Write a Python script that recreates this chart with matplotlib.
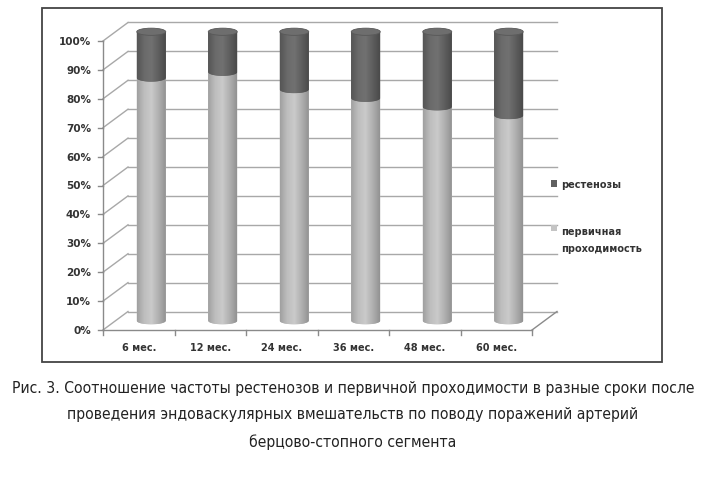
import numpy as np
import matplotlib
matplotlib.use('Agg')
import matplotlib.pyplot as plt
from matplotlib import font_manager
from matplotlib.patches import Polygon, Ellipse, Patch, Rectangle
from matplotlib.legend_handler import HandlerPatch
from matplotlib.colors import LinearSegmentedColormap

# ---------------- data ----------------
categories = ['6 мес.', '12 мес.', '24 мес.', '36 мес.', '48 мес.', '60 мес.']
patency = [84, 86, 80, 77, 74, 71]          # первичная проходимость, %
restenosis = [16, 14, 20, 23, 26, 29]       # рестенозы, %
yticks = [0, 10, 20, 30, 40, 50, 60, 70, 80, 90, 100]
ytick_labels = ['0%', '10%', '20%', '30%', '40%', '50%', '60%', '70%', '80%', '90%', '100%']
series_names = ['рестенозы', 'первичная\nпроходимость']
caption = ['Рис. 3. Соотношение частоты рестенозов и первичной проходимости в разные сроки после',
           'проведения эндоваскулярных вмешательств по поводу поражений артерий',
           'берцово-стопного сегмента']

# ---------------- figure ----------------
W, H = 706, 481
fig = plt.figure(figsize=(W / 100, H / 100), dpi=100)
fig.patch.set_facecolor('white')


def fx(px):
    return px / W


def fy(py):
    return 1 - py / H


# chart frame
fig.patches.append(Rectangle((fx(42), fy(363)), (662 - 42) / W, (363 - 9) / H,
                             transform=fig.transFigure, fill=False,
                             edgecolor='#444444', linewidth=1.3))

ax_l, ax_r, ax_t, ax_b = 60, 640, 12, 360
ax = fig.add_axes([fx(ax_l), fy(ax_b), (ax_r - ax_l) / W, (ax_b - ax_t) / H])
x0px, ux = 103, 71.5     # px of x=0, px per category
y0px, uy = 331, 2.89     # px of y=0, px per percent
xlim = ((ax_l - x0px) / ux, (ax_r - x0px) / ux)
ylim = ((y0px - ax_b) / uy, (y0px - ax_t) / uy)
ax.axis('off')

n = len(categories)
dx = 25 / ux
dy = 18.5 / uy
grid_c = '#a8a8a8'
axis_c = '#8a8a8a'

# walls / grid
for v in yticks:
    ax.plot([0, dx], [v, v + dy], color=grid_c, lw=1, zorder=1)
    ax.plot([dx, n + dx], [v + dy, v + dy], color=grid_c, lw=1, zorder=1)
    ax.plot([-5 / ux, 0], [v, v], color=axis_c, lw=1, zorder=1)
for v, lab in zip(yticks, ytick_labels):
    ax.text(-12 / ux, v, lab, ha='right', va='center', fontsize=7.5,
            fontweight='bold', color='#333333')
ax.plot([0, 0], [0, 100], color=axis_c, lw=1, zorder=1)
ax.plot([0, n], [0, 0], color=axis_c, lw=1, zorder=1)
ax.plot([n, n + dx], [0, dy], color=axis_c, lw=1, zorder=1)
for i in range(n + 1):
    ax.plot([i, i], [0, -5 / uy], color=axis_c, lw=1, zorder=1)
for i, lab in enumerate(categories):
    ax.text(i + 0.5, -17 / uy, lab, ha='center', va='center', fontsize=7,
            fontweight='bold', color='#333333')

# cylinders
a = 14.5 / ux
b = 3.6 / uy
xpos = np.arange(n) + 0.5 + dx / 2
base = dy / 2

light_cm = LinearSegmentedColormap.from_list('l', ['#a0a0a0', '#bebebe', '#cacaca', '#b0b0b0', '#929292'])
dark_cm = LinearSegmentedColormap.from_list('d', ['#555555', '#6a6a6a', '#717171', '#5e5e5e', '#4a4a4a'])
grad = np.linspace(0, 1, 128).reshape(1, -1)


def seg_poly(cx, y_bot, y_top):
    t = np.linspace(np.pi, 2 * np.pi, 50)
    xb = cx + a * np.cos(t)
    yb = y_bot + b * np.sin(t)
    t2 = t[::-1]
    xt = cx + a * np.cos(t2)
    yt = y_top + b * np.sin(t2)
    return np.column_stack([np.concatenate([xb, xt]), np.concatenate([yb, yt])])


ax.bar(xpos, patency, width=2 * a, bottom=base, color='#b8b8b8', zorder=2)
ax.bar(xpos, restenosis, width=2 * a, bottom=base + np.array(patency), color='#666666', zorder=4)

for cx, p, r in zip(xpos, patency, restenosis):
    poly = Polygon(seg_poly(cx, base, base + p), closed=True, facecolor='#b8b8b8',
                   edgecolor='none', zorder=2.5)
    ax.add_patch(poly)
    im = ax.imshow(grad, extent=[cx - a, cx + a, base - b, base + p], cmap=light_cm,
                   aspect='auto', origin='lower', zorder=3)
    im.set_clip_path(poly)
    poly2 = Polygon(seg_poly(cx, base + p, base + p + r), closed=True, facecolor='#666666',
                    edgecolor='none', zorder=4.5)
    ax.add_patch(poly2)
    im2 = ax.imshow(grad, extent=[cx - a, cx + a, base + p - b, base + p + r], cmap=dark_cm,
                    aspect='auto', origin='lower', zorder=5)
    im2.set_clip_path(poly2)
    ax.add_patch(Ellipse((cx, base + p + r), 2 * a, 2 * b, facecolor='#6e6e6e',
                         edgecolor='#585858', lw=0.6, zorder=6))

ax.set_xlim(*xlim)
ax.set_ylim(*ylim)
ax.set_aspect('auto')


# legend (marker aligned with the first line of a two-line label)
class TopHandler(HandlerPatch):
    def __init__(self, shift=0.0, **kw):
        super().__init__(**kw)
        self.shift = shift

    def create_artists(self, legend, orig_handle, xdescent, ydescent, width, height,
                       fontsize, trans):
        p = Rectangle((-xdescent, -ydescent + self.shift), width, height,
                      facecolor=orig_handle.get_facecolor(), edgecolor='none', transform=trans)
        return [p]


handles = [Patch(facecolor='#606060', edgecolor='none'),
           Patch(facecolor='#c4c4c4', edgecolor='none')]
leg = fig.legend(handles, series_names, loc='upper left',
                 bbox_to_anchor=(fx(546), fy(175)), frameon=False, fontsize=7,
                 handlelength=0.6, handleheight=0.6, handletextpad=0.5,
                 labelspacing=3.8, borderpad=0,
                 handler_map={handles[0]: TopHandler(0.0), handles[1]: TopHandler(8.5)})
for t in leg.get_texts():
    t.set_fontweight('bold')
    t.set_color('#333333')
    t.set_linespacing(1.9)

# caption: pick a narrow face if one exists, then fit the width of the first line
names = {f.name for f in font_manager.fontManager.ttflist}
cap_kw = {'family': ['DejaVu Sans']}
if 'Liberation Sans Narrow' in names:
    cap_kw = {'family': ['Liberation Sans Narrow', 'DejaVu Sans']}
elif any(f.name == 'DejaVu Sans' and str(f.stretch) in ('condensed', 'semi-condensed')
         for f in font_manager.fontManager.ttflist):
    cap_kw = {'family': ['DejaVu Sans'], 'stretch': 'condensed'}

cap_texts = []
for y, line in zip([388, 415, 442], caption):
    cap_texts.append(fig.text(0.5, fy(y), line, ha='center', va='center', fontsize=14,
                              color='#222222', **cap_kw))
fig.canvas.draw()
renderer = fig.canvas.get_renderer()
w0 = cap_texts[0].get_window_extent(renderer).width
fs = 14 * 688 / w0
for t in cap_texts:
    t.set_fontsize(fs)

fig.savefig('out.png', dpi=100)
